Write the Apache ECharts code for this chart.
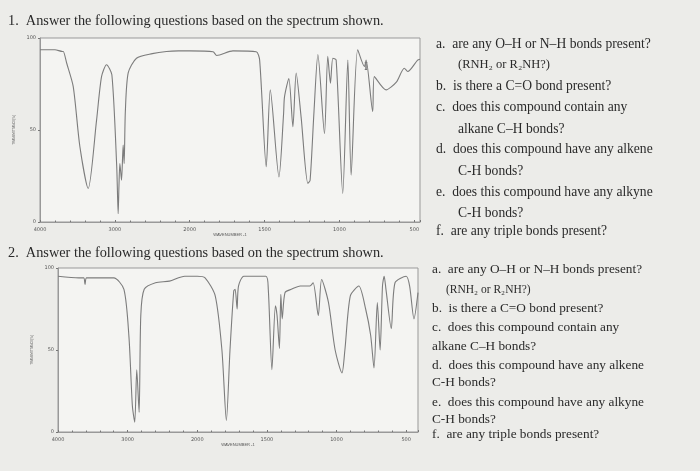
<!DOCTYPE html>
<html>
<head>
<meta charset="utf-8">
<script src="https://cdn.jsdelivr.net/npm/echarts@6/dist/echarts.min.js"></script>
<style>
  html, body { margin: 0; padding: 0; background: #ecece9; }
  #chart { width: 700px; height: 471px; }
</style>
</head>
<body>
<div id="chart"></div>
<script>
// spectrum 1: wavenumber (cm-1) and transmittance (%)
const wn1 = [4000, 3800, 3700, 3689, 3644, 3556, 3467, 3356, 3244, 3178, 3111, 3040, 2975, 2956, 2945, 2933,
    2911, 2889, 2876, 2860, 2822, 2711, 2500, 2311, 2150, 2000, 1844, 1820, 1711, 1556, 1533, 1489, 1462, 1404,
    1373, 1367, 1338, 1311, 1289, 1256, 1211, 1196, 1170, 1144, 1100, 1078, 1060, 1044, 1022, 978, 944, 922,
    878, 833, 822, 778, 767, 689, 620, 567, 544, 478, 462];
const t1 = [93.6, 93.6, 92.7, 92.7, 86.4, 73.6, 40.9, 18.2, 55.5, 79, 85.5, 80, 30, 4.5, 20, 31.8,
    22.7, 41.8, 31.8, 60, 81, 89, 91.5, 92.7, 93, 93, 92.5, 90.5, 93, 92.5, 88, 30, 71.8, 24.5,
    59, 68, 78, 51.8, 81, 57, 21, 22.7, 60, 91, 48, 90, 75.5, 89, 88, 15.5, 88, 25.5,
    93.6, 84.5, 88, 60, 79, 71.8, 76, 83.6, 81.8, 88, 88.5];

// spectrum 2
const wn2 = [4000, 3700, 3630, 3612, 3590, 3400, 3199, 3053, 2981, 2932, 2898, 2869, 2835, 2811, 2762, 2600,
    2400, 2180, 2000, 1944, 1871, 1823, 1791, 1765, 1738, 1728, 1714, 1704, 1665, 1507, 1490, 1464, 1439, 1427,
    1410, 1400, 1390, 1370, 1325, 1260, 1192, 1168, 1131, 1107, 1058, 1010, 961, 940, 901, 840, 791, 755,
    731, 707, 687, 670, 658, 645, 607, 580, 500, 475, 444, 415];
const t2 = [95, 94, 94, 90, 94, 94, 94, 87, 58, 16, 6, 38, 12, 71, 87, 91,
    92, 95, 95, 94, 83, 50, 7, 50, 86, 87, 75, 89, 95, 95, 87, 38, 77, 71,
    51, 84, 69, 85, 87, 89, 89, 91, 71, 93, 79, 50, 36, 50, 83, 89, 75, 59,
    39, 79, 50, 89, 95, 87, 63, 91, 95, 89, 69, 85];

const xTicks = [4000, 3000, 2000, 1500, 1000, 500];
const yTicks = [0, 50, 100];

// axis is half-scale above 2000 cm-1, like the printed spectra
function toPos(w) { return w >= 2000 ? 4000 - w : 2000 + (2000 - w) * 2; }
function toWn(p) { return p <= 2000 ? 4000 - p : 2000 - (p - 2000) / 2; }

function pairs(wn, t) { return wn.map((w, i) => [toPos(w), t[i]]); }

const lineGrey = '#7c7c7c';
const tiny = { fontSize: 5, color: '#555', fontFamily: 'DejaVu Sans' };

function xAxisFor(gridIndex, max) {
    return {
        type: 'value', gridIndex, min: 0, max, interval: 1000,
        axisLine: { lineStyle: { color: '#999' } },
        axisTick: { show: true, inside: true, length: 2, lineStyle: { color: '#777' } },
        minorTick: { show: true, splitNumber: 5, length: 1.5, lineStyle: { color: '#777' } },
        splitLine: { show: false },
        axisLabel: { ...tiny, margin: 5, formatter: v => xTicks.includes(toWn(v)) ? String(toWn(v)) : '' },
        name: 'WAVENUMBER -1', nameLocation: 'middle', nameGap: 8,
        nameTextStyle: { fontSize: 4, color: '#555' }
    };
}
function yAxisFor(gridIndex) {
    return {
        type: 'value', gridIndex, min: 0, max: 100, interval: 50,
        axisLine: { show: true, lineStyle: { color: '#999' } },
        axisTick: { show: true, length: 2, lineStyle: { color: '#777' } },
        splitLine: { show: false },
        axisLabel: { ...tiny, margin: 4, formatter: v => yTicks.includes(v) ? String(v) : '' },
        name: 'TRANSMITTANCE[%]', nameLocation: 'middle', nameGap: 14,
        nameTextStyle: { fontSize: 3, color: '#666' }
    };
}

const serif = 'Liberation Serif';
function txt(x, y, text, size) {
    return { type: 'text', left: x, top: y, style: { text, font: (size || 13.6) + 'px "' + serif + '"', fill: '#2a2a2a' } };
}

const texts = [
    txt(8, 14, '1.  Answer the following questions based on the spectrum shown.', 14.3),
    txt(8, 246, '2.  Answer the following questions based on the spectrum shown.', 14.3),
    txt(436, 37, 'a.  are any O–H or N–H bonds present?'),
    txt(458, 58, '(RNH₂ or R₂NH?)', 12.5),
    txt(436, 79, 'b.  is there a C=O bond present?'),
    txt(436, 100, 'c.  does this compound contain any'),
    txt(458, 122, 'alkane C–H bonds?'),
    txt(436, 142, 'd.  does this compound have any alkene'),
    txt(458, 164, 'C-H bonds?'),
    txt(436, 185, 'e.  does this compound have any alkyne'),
    txt(458, 206, 'C-H bonds?'),
    txt(436, 224, 'f.  are any triple bonds present?'),
    txt(432, 263, 'a.  are any O–H or N–H bonds present?', 13.3),
    txt(446, 284, '(RNH₂ or R₂NH?)', 11.5),
    txt(432, 302, 'b.  is there a C=O bond present?', 13.3),
    txt(432, 321, 'c.  does this compound contain any', 13.3),
    txt(432, 340, 'alkane C–H bonds?', 13.3),
    txt(432, 359, 'd.  does this compound have any alkene', 13.3),
    txt(432, 376, 'C-H bonds?', 13.3),
    txt(432, 396, 'e.  does this compound have any alkyne', 13.3),
    txt(432, 413, 'C-H bonds?', 13.3),
    txt(432, 428, 'f.  are any triple bonds present?', 13.3),
    { type: 'text', left: 364, top: 61, style: { text: 'I', font: '12px "' + serif + '"', fill: '#555' } }
];

const chart = echarts.init(document.getElementById('chart'));
chart.setOption({
    backgroundColor: '#ecece9',
    animation: false,
    grid: [
        { left: 40, top: 38, width: 380, height: 184, show: true, backgroundColor: '#f4f4f2', borderColor: '#999' },
        { left: 58, top: 268, width: 360, height: 164, show: true, backgroundColor: '#f4f4f2', borderColor: '#999' }
    ],
    xAxis: [xAxisFor(0, 5076), xAxisFor(1, 5170)],
    yAxis: [yAxisFor(0), yAxisFor(1)],
    series: [
        { type: 'line', xAxisIndex: 0, yAxisIndex: 0, data: pairs(wn1, t1), showSymbol: false,
          smooth: 0.25, lineStyle: { color: lineGrey, width: 1.1 } },
        { type: 'line', xAxisIndex: 1, yAxisIndex: 1, data: pairs(wn2, t2), showSymbol: false,
          smooth: 0.25, lineStyle: { color: lineGrey, width: 1.1 } }
    ],
    graphic: texts
});
</script>
</body>
</html>
